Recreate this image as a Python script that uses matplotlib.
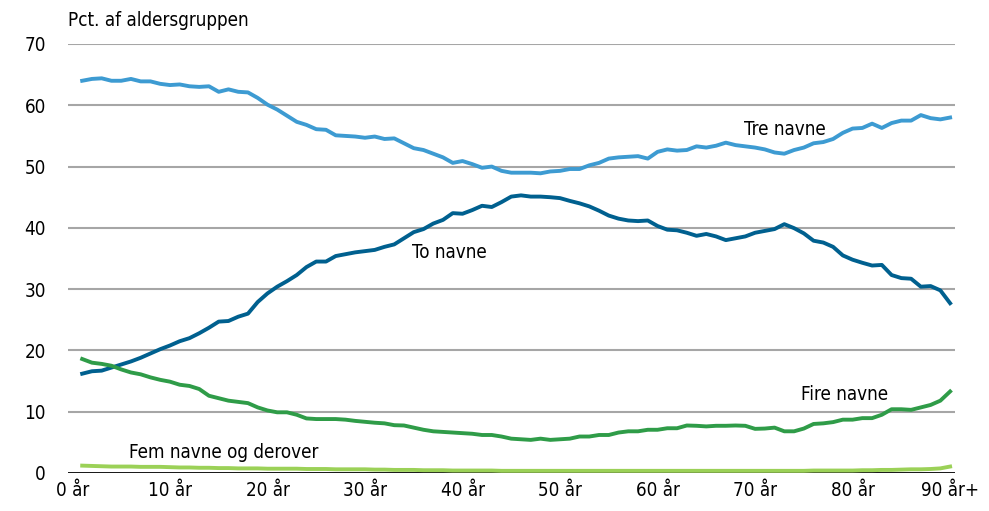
import matplotlib
matplotlib.use("Agg")
import matplotlib.pyplot as plt
from matplotlib import font_manager

# smal skrift hvis den findes
names = {f.name for f in font_manager.fontManager.ttflist}
if 'Liberation Sans Narrow' in names:
    plt.rcParams['font.family'] = ['Liberation Sans Narrow', 'DejaVu Sans']
else:
    plt.rcParams['font.family'] = ['DejaVu Sans']
    plt.rcParams['font.stretch'] = 'condensed'

# Alder 1..90 (90 = 90 år+)
ages = list(range(1, 91))

tre_navne = [
    64.0, 64.3, 64.4, 64.0, 64.0, 64.3, 63.9, 63.9, 63.5, 63.3,
    63.4, 63.1, 63.0, 63.1, 62.2, 62.6, 62.2, 62.1, 61.2, 60.1,
    59.3, 58.3, 57.3, 56.8, 56.1, 56.0, 55.1, 55.0, 54.9, 54.7,
    54.9, 54.5, 54.6, 53.8, 53.0, 52.7, 52.1, 51.5, 50.6, 50.9,
    50.4, 49.8, 50.0, 49.3, 49.0, 49.0, 49.0, 48.9, 49.2, 49.3,
    49.6, 49.6, 50.2, 50.6, 51.3, 51.5, 51.6, 51.7, 51.3, 52.4,
    52.8, 52.6, 52.7, 53.3, 53.1, 53.4, 53.9, 53.5, 53.3, 53.1,
    52.8, 52.3, 52.1, 52.7, 53.1, 53.8, 54.0, 54.5, 55.5, 56.2,
    56.3, 57.0, 56.3, 57.1, 57.5, 57.5, 58.4, 57.9, 57.7, 58.0,
]

to_navne = [
    16.2, 16.6, 16.7, 17.2, 17.7, 18.2, 18.8, 19.5, 20.2, 20.8,
    21.5, 22.0, 22.8, 23.7, 24.7, 24.8, 25.5, 26.0, 27.9, 29.3,
    30.4, 31.3, 32.3, 33.6, 34.5, 34.5, 35.4, 35.7, 36.0, 36.2,
    36.4, 36.9, 37.3, 38.3, 39.3, 39.8, 40.7, 41.3, 42.4, 42.3,
    42.9, 43.6, 43.4, 44.2, 45.1, 45.3, 45.1, 45.1, 45.0, 44.85,
    44.4, 44.0, 43.5, 42.8, 42.0, 41.5, 41.2, 41.1, 41.2, 40.3,
    39.7, 39.6, 39.2, 38.7, 39.0, 38.6, 38.0, 38.3, 38.6, 39.2,
    39.5, 39.8, 40.6, 39.95, 39.1, 37.9, 37.6, 36.9, 35.5, 34.8,
    34.3, 33.85, 33.95, 32.3, 31.8, 31.7, 30.4, 30.5, 29.8, 27.7,
]

fire_navne = [
    18.6, 18.0, 17.8, 17.5, 16.9, 16.4, 16.1, 15.6, 15.2, 14.9,
    14.4, 14.2, 13.7, 12.6, 12.2, 11.8, 11.6, 11.4, 10.7, 10.2,
    9.9, 9.9, 9.5, 8.9, 8.8, 8.8, 8.8, 8.7, 8.5, 8.35,
    8.2, 8.1, 7.8, 7.75, 7.4, 7.05, 6.8, 6.7, 6.6, 6.5,
    6.4, 6.2, 6.2, 5.95, 5.6, 5.5, 5.4, 5.6, 5.4, 5.5,
    5.6, 5.95, 5.95, 6.2, 6.2, 6.6, 6.8, 6.8, 7.05, 7.05,
    7.3, 7.3, 7.75, 7.7, 7.6, 7.7, 7.7, 7.75, 7.7, 7.2,
    7.25, 7.4, 6.8, 6.8, 7.25, 8.0, 8.1, 8.3, 8.7, 8.7,
    8.95, 8.95, 9.5, 10.4, 10.4, 10.3, 10.7, 11.1, 11.8, 13.3,
]

fem_navne = [
    1.2, 1.15, 1.1, 1.05, 1.05, 1.05, 1.0, 1.0, 1.0, 0.95,
    0.9, 0.9, 0.85, 0.85, 0.8, 0.8, 0.75, 0.75, 0.75, 0.7,
    0.7, 0.7, 0.7, 0.65, 0.65, 0.65, 0.6, 0.6, 0.6, 0.6,
    0.55, 0.55, 0.5, 0.5, 0.5, 0.45, 0.45, 0.45, 0.4, 0.4,
    0.4, 0.4, 0.4, 0.35, 0.35, 0.35, 0.35, 0.35, 0.35, 0.35,
    0.35, 0.35, 0.35, 0.35, 0.35, 0.35, 0.35, 0.35, 0.35, 0.35,
    0.35, 0.35, 0.35, 0.35, 0.35, 0.35, 0.35, 0.35, 0.35, 0.35,
    0.35, 0.35, 0.35, 0.35, 0.35, 0.4, 0.4, 0.4, 0.4, 0.4,
    0.45, 0.45, 0.5, 0.5, 0.55, 0.6, 0.6, 0.65, 0.75, 1.05,
]

tick_pos = [0, 10, 20, 30, 40, 50, 60, 70, 80, 90]
tick_labels = ["0 år", "10 år", "20 år", "30 år", "40 år", "50 år",
               "60 år", "70 år", "80 år", "90 år+"]

fig = plt.figure(figsize=(9.89, 5.11), dpi=100)
ax = fig.add_axes([0.0688, 0.0744, 0.8968, 0.8395])

for yv in range(10, 80, 10):
    ax.axhline(yv, color='#a6a6a6', linewidth=1.5, zorder=1)

lw = 2.8
ax.plot(ages, tre_navne, color='#3d9bd2', linewidth=lw, zorder=3)
ax.plot(ages, to_navne, color='#00608f', linewidth=lw, zorder=3)
ax.plot(ages, fire_navne, color='#2f9c48', linewidth=lw, zorder=3)
ax.plot(ages, fem_navne, color='#9bd157', linewidth=lw, zorder=4)

ax.axhline(0, color='black', linewidth=2, zorder=2)

ax.set_xlim(-0.45, 90.5)
ax.set_ylim(0, 70)
ax.set_xticks(tick_pos)
ax.set_xticklabels(tick_labels)
ax.set_yticks(range(0, 80, 10))
ax.tick_params(axis='both', length=0, labelsize=13.5)
ax.tick_params(axis='y', pad=16)
ax.tick_params(axis='x', pad=6)
for s in ax.spines.values():
    s.set_visible(False)

fs = 13.5
ax.text(73.1, 56.0, "Tre navne", fontsize=fs, ha='center', va='center')
ax.text(38.7, 35.9, "To navne", fontsize=fs, ha='center', va='center')
ax.text(79.2, 12.8, "Fire navne", fontsize=fs, ha='center', va='center')
ax.text(5.8, 3.4, "Fem navne og derover", fontsize=fs, ha='left', va='center')

fig.text(68 / 989, 1 - 20 / 511, "Pct. af aldersgruppen", fontsize=fs,
         ha='left', va='center')

fig.savefig("out.png", dpi=100)
